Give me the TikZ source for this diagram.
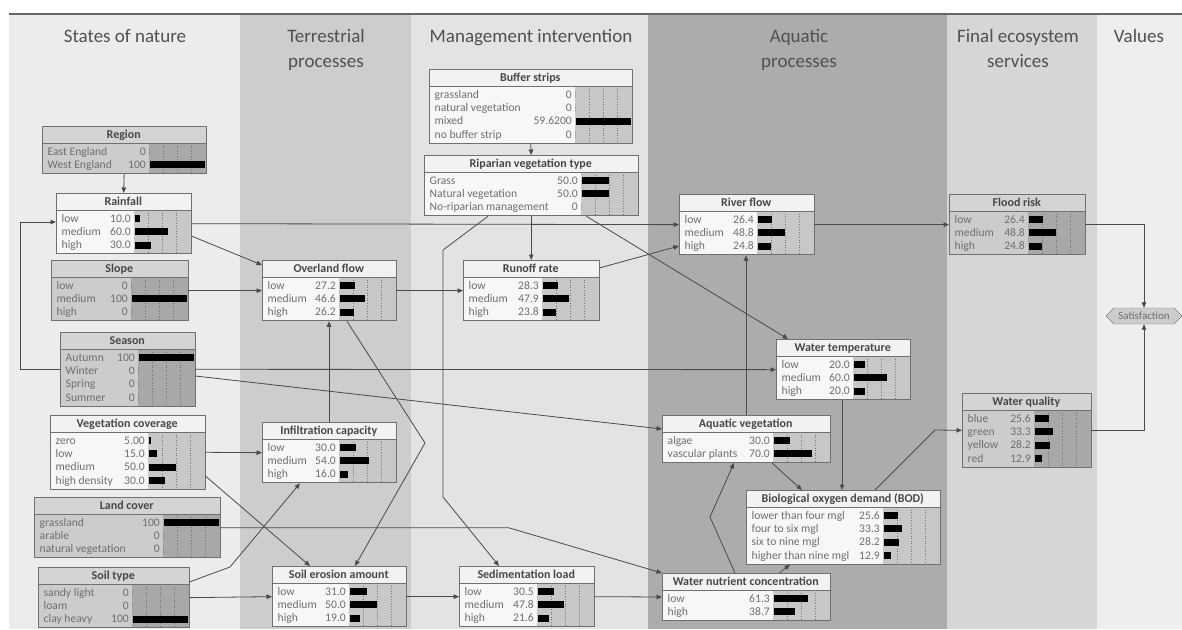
\documentclass[tikz,border=0pt]{standalone}
\usepackage{fontspec}
\setmainfont{Carlito}
\usetikzlibrary{arrows.meta,calc,shapes.symbols}

\definecolor{bandnature}{HTML}{ECECEC}
\definecolor{bandterr}{HTML}{CDCDCD}
\definecolor{bandmgmt}{HTML}{E3E3E3}
\definecolor{bandaqua}{HTML}{ACACAC}
\definecolor{bandfinal}{HTML}{D6D6D6}
\definecolor{bandvalue}{HTML}{EEEEEE}
\definecolor{headgray}{HTML}{505050}
\definecolor{titlegray}{HTML}{474747}
\definecolor{rowgray}{HTML}{6E6E6E}
\definecolor{framegray}{HTML}{707070}
\definecolor{edgegray}{HTML}{4A4A4A}

\tikzset{
  plainhead/.style={fill=white!95!black},
  plainlab/.style={fill=white!97!black},
  plaincol/.style={fill=white!78!black},
  evidhead/.style={fill=white!83!black},
  evidlab/.style={fill=white!80!black},
  evidcol/.style={fill=white!66!black},
  tick/.style={draw=black!55, dotted, line width=0.6pt},
  frame/.style={draw=framegray, line width=0.9pt},
  rowtext/.style={inner sep=0pt, text=rowgray, font=\fontsize{11.6}{12}\selectfont},
  titletext/.style={inner sep=0pt, anchor=base, text=titlegray, font=\fontsize{12}{13}\selectfont\bfseries},
  header/.style={anchor=north, align=center, inner sep=0pt, text=headgray, font=\fontsize{19}{25}\selectfont},
  edge/.style={draw=edgegray, line width=0.8pt, -{Triangle[length=5.5pt,width=4.5pt]}},
  utility/.style={shape=signal, signal to=west and east, draw=black!50, fill=white!80!black,
    minimum width=76pt, minimum height=16pt, inner sep=1pt, text=rowgray, font=\fontsize{11}{12}\selectfont},
}

% #1 name, #2 left, #3 top, #4 bar column x, #5 rows, #6 kind, #7 title, #8 label/value/percent
\newcommand{\bnode}[8]{%
  \pgfmathsetmacro{\bnR}{#4+56.5}
  \pgfmathsetmacro{\bnB}{#3+17+13.3*#5+3.5}
  \fill[#6head] (#2,#3) rectangle (\bnR,#3+17);
  \fill[#6lab] (#2,#3+17) rectangle (#4,\bnB);
  \fill[#6col] (#4,#3+17) rectangle (\bnR,\bnB);
  \foreach \q in {0.25,0.5,0.75}
    \draw[tick] ({#4+56.5*\q},#3+17) -- ({#4+56.5*\q},\bnB);
  \foreach \lab/\val/\pc [count=\i] in {#8} {
    \node[rowtext,anchor=base west] at (#2+5.5,{#3+19+13.3*(\i-0.5)+3.5}) {\lab};
    \node[rowtext,anchor=base east] at (#4-3,{#3+19+13.3*(\i-0.5)+3.5}) {\val};
    \fill[black] (#4+0.5,{#3+19+13.3*(\i-0.5)-3.5}) rectangle ({#4+0.5+55.5*\pc/100},{#3+19+13.3*(\i-0.5)+3.5});
  }
  \draw[frame] (#2,#3+17) -- (\bnR,#3+17);
  \node[frame,inner sep=0pt,anchor=north west,minimum width={(\bnR-#2)*1pt},minimum height={(\bnB-#3)*1pt}] (#1) at (#2,#3) {};
  \node[titletext] at ({(#2+\bnR)/2},#3+12.5) {#7};
}

\begin{document}
\begin{tikzpicture}[x=1pt,y=-1pt]
\useasboundingbox (0,0) rectangle (1182,629);
% column bands
\fill[bandnature] (9,14) rectangle (240,629);
\fill[bandterr] (240,14) rectangle (411,629);
\fill[bandmgmt] (411,14) rectangle (648,629);
\fill[bandaqua] (648,14) rectangle (947,629);
\fill[bandfinal] (947,14) rectangle (1097,629);
\fill[bandvalue] (1097,14) rectangle (1182,629);
\draw[draw=black!60, line width=1.5pt] (9,14) -- (1182,14);

\node[header] (hnature) at (125,29) {States of nature};
\node[header] (hterr) at (326,29) {Terrestrial\\processes};
\node[header] (hmgmt) at (531,29) {Management intervention};
\node[header] (haqua) at (799,29) {Aquatic\\processes};
\node[header] (hfinal) at (1018,29) {Final ecosystem\\services};
\node[header] (hvalue) at (1139,29) {Values};

% states of nature
\bnode{region}{42}{126}{149}{2}{evid}{Region}{East England/0/0, West England/100/100}
\bnode{rain}{56}{193}{134}{3}{plain}{Rainfall}{low/10.0/10, medium/60.0/60, high/30.0/30}
\bnode{slope}{51}{260}{131}{3}{evid}{Slope}{low/0/0, medium/100/100, high/0/0}
\bnode{season}{60}{332}{138}{4}{evid}{Season}{Autumn/100/100, Winter/0/0, Spring/0/0, Summer/0/0}
\bnode{vegcov}{50}{415}{148}{4}{plain}{Vegetation coverage}{zero/5.00/5, low/15.0/15, medium/50.0/50, high density/30.0/30}
\bnode{landcov}{34}{497}{163}{3}{evid}{Land cover}{grassland/100/100, arable/0/0, natural vegetation/0/0}
\bnode{soiltype}{38}{567}{132}{3}{evid}{Soil type}{sandy light/0/0, loam/0/0, clay heavy/100/100}
% terrestrial processes
\bnode{overland}{262}{260}{339}{3}{plain}{Overland flow}{low/27.2/27.2, medium/46.6/46.6, high/26.2/26.2}
\bnode{infil}{262}{422}{339}{3}{plain}{Infiltration capacity}{low/30.0/30, medium/54.0/54, high/16.0/16}
\bnode{erosion}{272}{566}{349}{3}{plain}{Soil erosion amount}{low/31.0/31, medium/50.0/50, high/19.0/19}
% management intervention
\bnode{buffer}{429}{69}{575}{4}{plain}{Buffer strips}{grassland/0/0, natural vegetation/0/0, mixed/59.6200/100, no buffer strip/0/0}
\bnode{riparian}{424}{155}{581}{3}{plain}{Riparian vegetation type}{Grass/50.0/50, Natural vegetation/50.0/50, No-riparian management/0/0}
\bnode{runoff}{463}{260}{542}{3}{plain}{Runoff rate}{low/28.3/28.3, medium/47.9/47.9, high/23.8/23.8}
\bnode{sediment}{459}{566}{537}{3}{plain}{Sedimentation load}{low/30.5/30.5, medium/47.8/47.8, high/21.6/21.6}
% aquatic processes
\bnode{river}{679}{194}{757}{3}{plain}{River flow}{low/26.4/26.4, medium/48.8/48.8, high/24.8/24.8}
\bnode{wtemp}{776}{339}{853}{3}{plain}{Water temperature}{low/20.0/20, medium/60.0/60, high/20.0/20}
\bnode{aquaveg}{662}{415}{773}{2}{plain}{Aquatic vegetation}{algae/30.0/30, vascular plants/70.0/70}
\bnode{bod}{746}{490}{883}{4}{plain}{Biological oxygen demand (BOD)}{lower than four mgl/25.6/25.6, four to six mgl/33.3/33.3, six to nine mgl/28.2/28.2, higher than nine mgl/12.9/12.9}
\bnode{nutrient}{662}{573}{773}{2}{plain}{Water nutrient concentration}{low/61.3/61.3, high/38.7/38.7}
% final ecosystem services and values
\bnode{flood}{949}{194}{1028}{3}{evid}{Flood risk}{low/26.4/26.4, medium/48.8/48.8, high/24.8/24.8}
\bnode{wquality}{962}{393}{1034}{4}{evid}{Water quality}{blue/25.6/25.6, green/33.3/33.3, yellow/28.2/28.2, red/12.9/12.9}
\node[utility] (satis) at (1144,316) {Satisfaction};

% links
\draw[edge] (region.south) -- (rain.north);
\draw[edge] (season.west) -- ++(-40,0) |- ($(rain.north west)+(0,29)$);
\draw[edge] ($(rain.north east)+(0,43)$) -- ($(overland.north west)+(0,5)$);
\draw[edge] (rain.east) -- (river.west);
\draw[edge] (slope.east) -- (overland.west);
\draw[edge] (overland.east) -- (runoff.west);
\draw[edge] (buffer.south) -- (riparian.north);
\draw[edge] (riparian.south) -- (runoff.north);
\draw[edge] ($(riparian.south west)+(64,0)$) -- (443,250) -- (443,497) -- ($(sediment.north west)+(40,0)$);
\draw[edge] ($(riparian.south east)+(-52,0)$) -- ($(wtemp.north west)+(12,0)$);
\draw[edge] ($(runoff.north east)+(0,8)$) -- ($(river.north west)+(0,52)$);
\draw[edge] (season.east) -- (wtemp.west);
\draw[edge] ($(season.north east)+(0,44)$) -- ($(aquaveg.north west)+(0,14)$);
\draw[edge] ($(overland.south west)+(85,0)$) -- (425,443) -- ($(erosion.north west)+(83,0)$);
\draw[edge] ($(infil.north west)+(67,0)$) -- ($(overland.south west)+(67,0)$);
\draw[edge] (vegcov.east) -- (infil.west);
\draw[edge] ($(vegcov.north east)+(0,61)$) -- ($(erosion.north west)+(38,0)$);
\draw[edge] ($(soiltype.north east)+(0,15)$) -- (230,567) -- ($(infil.south west)+(38,0)$);
\draw[edge] (soiltype.east) -- (erosion.west);
\draw[edge] (erosion.east) -- (sediment.west);
\draw[edge] (sediment.east) -- (nutrient.west);
\draw[edge] (landcov.east) -- ++(288,0) -- (nutrient.north west);
\draw[edge] ($(nutrient.north west)+(73,0)$) -- (710,517) -- ($(aquaveg.south west)+(72,0)$);
\draw[edge] ($(nutrient.north east)+(-51,0)$) -- ($(bod.south west)+(44,0)$);
\draw[edge] ($(aquaveg.south west)+(110,0)$) -- ($(bod.north west)+(56,0)$);
\draw[edge] ($(wtemp.south west)+(66,0)$) -- ($(bod.north west)+(96,0)$);
\draw[edge] ($(aquaveg.north west)+(84,0)$) -- ($(river.south west)+(67,0)$);
\draw[edge] ($(bod.north west)+(129,0)$) -- (935,430) -- (wquality.west);
\draw[edge] (river.east) -- (flood.west);
\draw[edge] (flood.east) -| (satis.north);
\draw[edge] (wquality.east) -| (satis.south);
\end{tikzpicture}
\end{document}
